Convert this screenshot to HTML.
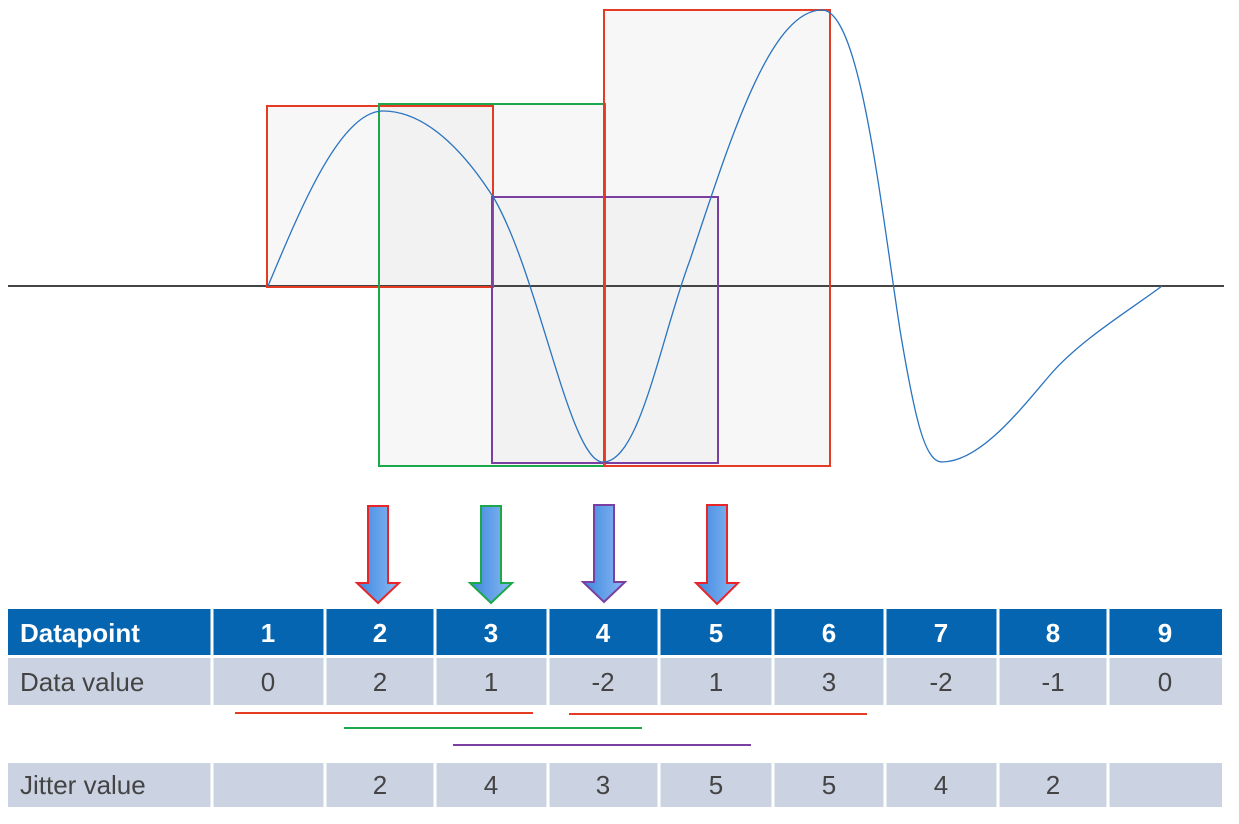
<!DOCTYPE html>
<html><head><style>
body{margin:0;background:#fff;width:1239px;height:819px;overflow:hidden;font-family:"Liberation Sans",sans-serif}
</style></head><body>
<svg width="1239" height="819" viewBox="0 0 1239 819" xmlns="http://www.w3.org/2000/svg">
<defs>
<linearGradient id="g" x1="0" x2="1"><stop offset="0" stop-color="#3d87dd"/><stop offset="1" stop-color="#8ab9f5"/></linearGradient>
</defs>
<g fill="#e8e8e8" fill-opacity="0.35" stroke="none">
<rect x="267" y="106" width="226" height="181"/>
<rect x="379" y="104" width="226" height="362"/>
<rect x="492" y="197" width="226" height="266"/>
<rect x="604" y="10" width="226" height="456"/>
</g>
<line x1="8" y1="286" x2="1224" y2="286" stroke="#444" stroke-width="2"/>
<g fill="none" stroke-width="2">
<rect x="267" y="106" width="226" height="181" stroke="#e53a24"/>
<rect x="379" y="104" width="226" height="362" stroke="#1aa84a"/>
<rect x="492" y="197" width="226" height="266" stroke="#7a3fa0"/>
<rect x="604" y="10" width="226" height="456" stroke="#e53a24"/>
</g>
<path d="M268,286 C300,210 340,111 383,111 C430,111 470,160 495,200 C540,280 570,462 603,462 C640,462 660,340 690,260 C730,140 770,10 822,10 C860,10 880,200 900,330 C915,420 925,462 942,462 C980,462 1020,410 1050,375 C1080,340 1130,310 1162,286" fill="none" stroke="#2a74c0" stroke-width="1.3"/>
<g stroke-width="2" fill="url(#g)">
<path d="M368,506 H388 V583 H399 L378,603 L357,583 H368 Z" stroke="#e8262a"/>
<path d="M481,506 H501 V583 H512 L491,603 L470,583 H481 Z" stroke="#1aa84a"/>
<path d="M594,505 H614 V582 H625 L604,602 L583,582 H594 Z" stroke="#7a3fa0"/>
<path d="M707,505 H727 V583 H738 L717,604 L696,583 H707 Z" stroke="#e8262a"/>
</g>
<g stroke-width="2">
<line x1="235" y1="713" x2="533" y2="713" stroke="#e53a24"/>
<line x1="569" y1="714" x2="867" y2="714" stroke="#e53a24"/>
<line x1="344" y1="728" x2="642" y2="728" stroke="#1aa84a"/>
<line x1="453" y1="745" x2="751" y2="745" stroke="#7a3fa0"/>
</g>
<rect x="8" y="609" width="1214" height="46" fill="#0565b0"/>
<rect x="8" y="658" width="1214" height="47" fill="#cbd3e3"/>
<rect x="8" y="763" width="1214" height="44" fill="#cbd3e3"/>
<g stroke="#fff" stroke-width="3" id="c">
<path d="M212,609V705M325,609V705M435,609V705M548,609V705M659,609V705M773,609V705M885,609V705M998,609V705M1108,609V705"/>
<path d="M212,763V807M325,763V807M435,763V807M548,763V807M659,763V807M773,763V807M885,763V807M998,763V807M1108,763V807"/>
</g>
<g font-size="26" font-weight="bold" fill="#fff" text-anchor="middle">
<text x="20" y="642" text-anchor="start">Datapoint</text>
<text x="268" y="642">1</text><text x="380" y="642">2</text><text x="491" y="642">3</text><text x="603" y="642">4</text><text x="716" y="642">5</text><text x="829" y="642">6</text><text x="941" y="642">7</text><text x="1053" y="642">8</text><text x="1165" y="642">9</text>
</g>
<g font-size="26" fill="#444" text-anchor="middle">
<text x="20" y="691" text-anchor="start">Data value</text>
<text x="268" y="691">0</text><text x="380" y="691">2</text><text x="491" y="691">1</text><text x="603" y="691">-2</text><text x="716" y="691">1</text><text x="829" y="691">3</text><text x="941" y="691">-2</text><text x="1053" y="691">-1</text><text x="1165" y="691">0</text>
<text x="20" y="794" text-anchor="start">Jitter value</text>
<text x="380" y="794">2</text><text x="491" y="794">4</text><text x="603" y="794">3</text><text x="716" y="794">5</text><text x="829" y="794">5</text><text x="941" y="794">4</text><text x="1053" y="794">2</text>
</g>
</svg>
</body></html>
